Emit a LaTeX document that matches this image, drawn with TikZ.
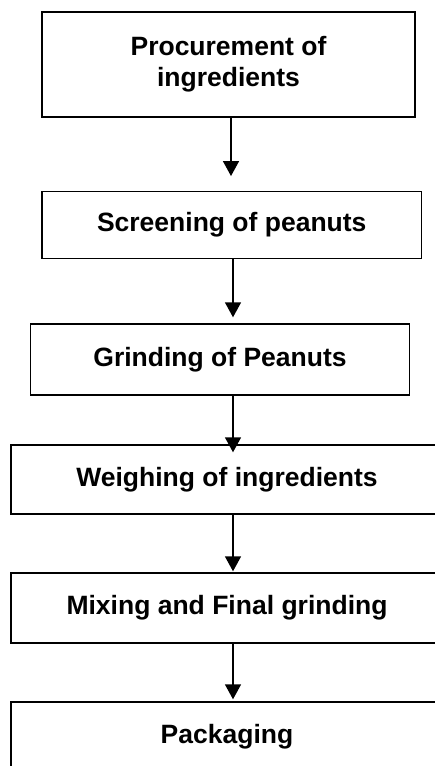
\documentclass[tikz,border=0pt]{standalone}
\usepackage{fontspec}
\setmainfont{Liberation Sans}
\usetikzlibrary{arrows.meta}
\begin{document}
\begin{tikzpicture}[x=1pt,y=-1pt,
  box/.style={draw,line width=1.4pt,font=\bfseries\fontsize{26.5}{31}\selectfont,align=center,inner sep=0pt},
  flow/.style={line width=1.4pt,-{Triangle[width=16pt,length=15pt]}}]
\useasboundingbox (0,0) rectangle (435,766);
\clip (0,0) rectangle (435,766);
\node[box, minimum width=373pt, minimum height=105pt] (p) at (228.5,64.5) {Procurement of\\ingredients};
\node[box, minimum width=379.5pt, minimum height=66.5pt] (s) at (231.75,225) {Screening of peanuts};
\node[box, minimum width=378.5pt, minimum height=71pt] (g) at (220,359.5) {Grinding of Peanuts};
\node[box, minimum width=432pt, minimum height=69pt] (w) at (227,479.5) {Weighing of ingredients};
\node[box, minimum width=432pt, minimum height=70pt] (m) at (227,608) {Mixing and Final grinding};
\node[box, minimum width=432pt, minimum height=70pt] (k) at (227,737) {Packaging};
\coordinate (c1) at (231,0);
\coordinate (c2) at (233,0);
\draw[flow] (p.south -| c1) -- ([yshift=15pt]s.north -| c1);
\draw[flow] (s.south -| c2) -- ([yshift=6pt]g.north -| c2);
\draw[flow] (g.south -| c2) -- ([yshift=-8pt]w.north -| c2);
\draw[flow] (w.south -| c2) -- ([yshift=1pt]m.north -| c2);
\draw[flow] (m.south -| c2) -- ([yshift=2pt]k.north -| c2);
\end{tikzpicture}
\end{document}
